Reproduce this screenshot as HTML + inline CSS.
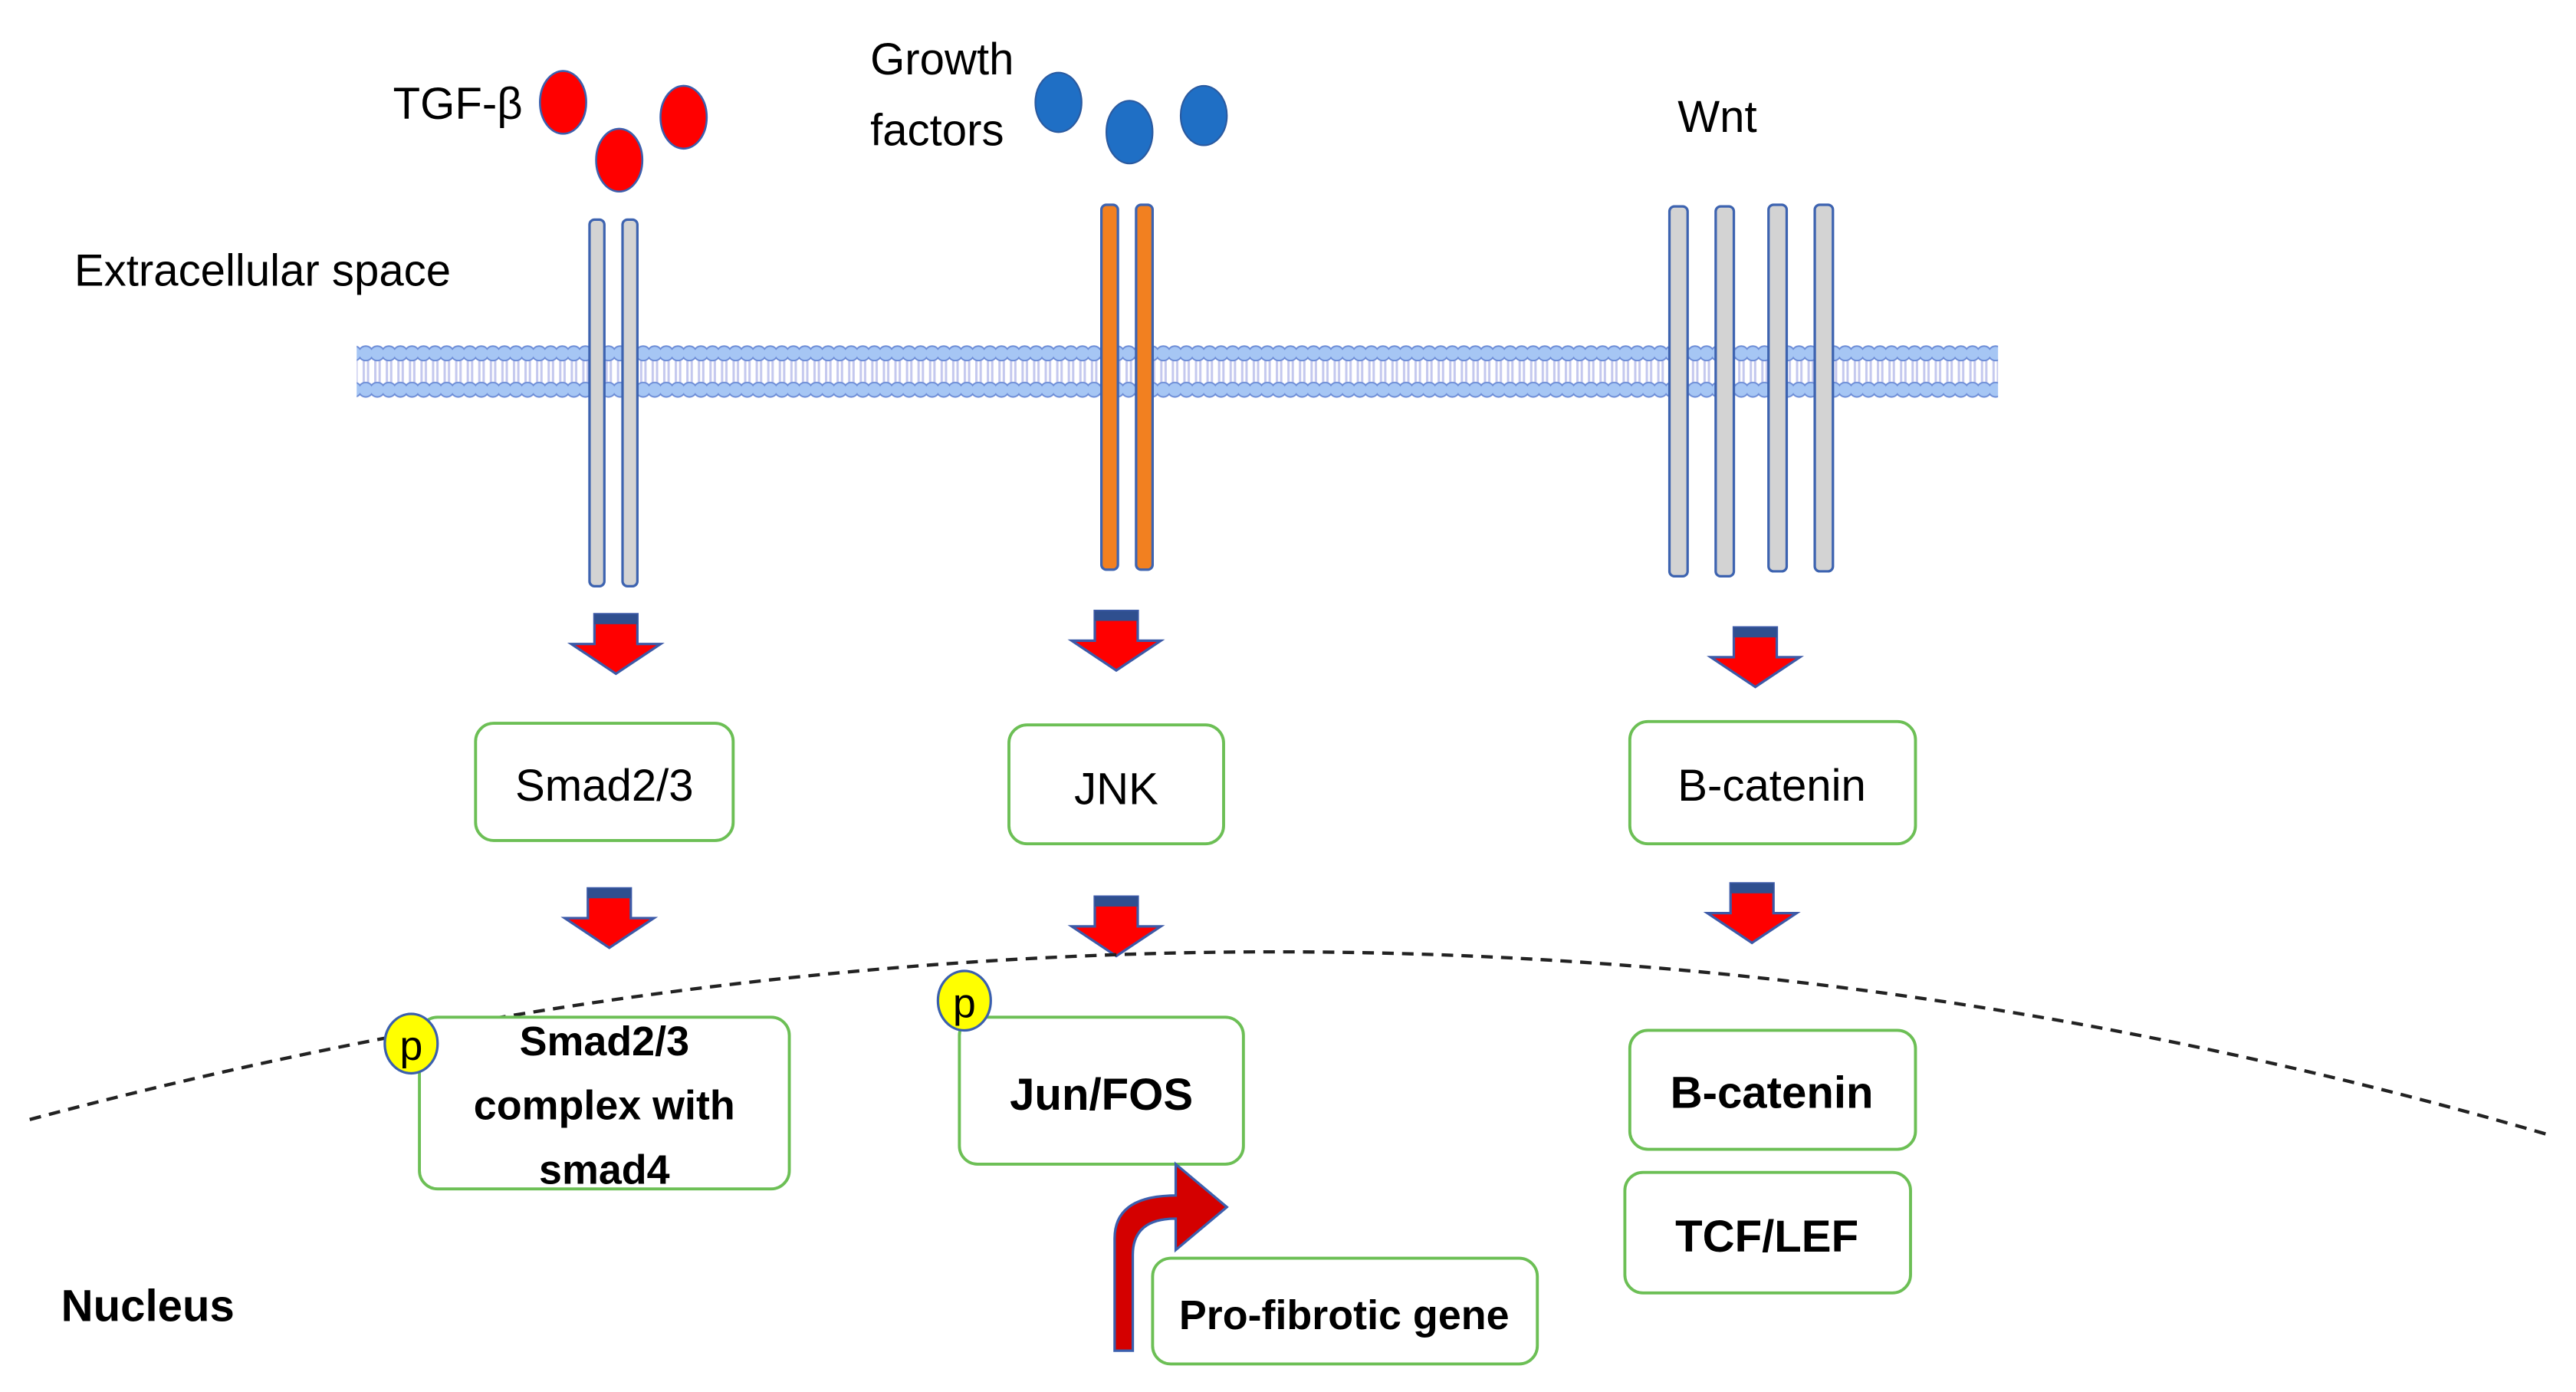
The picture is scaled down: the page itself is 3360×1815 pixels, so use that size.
<!DOCTYPE html>
<html><head><meta charset="utf-8"><style>
html,body{margin:0;padding:0;background:#fff}
svg{display:block}
text{font-family:"Liberation Sans",sans-serif;fill:#000}
</style></head><body>
<svg width="3360" height="1815" viewBox="0 0 1560 843" preserveAspectRatio="none" xmlns="http://www.w3.org/2000/svg">
<defs>
<pattern id="mem" x="218" y="207" width="7" height="36" patternUnits="userSpaceOnUse">
<rect x="1.6" y="10" width="1.4" height="16" fill="#c4c8ee"/>
<rect x="4.2" y="10" width="1.4" height="16" fill="#c4c8ee"/>
<circle cx="3.5" cy="7" r="4.4" fill="#a6c6f4" stroke="#6b8bd6" stroke-width="0.9"/>
<circle cx="3.5" cy="29" r="4.4" fill="#a6c6f4" stroke="#6b8bd6" stroke-width="0.9"/>
</pattern>
<g id="arr">
<path d="M-13,0 H13 V18 H27 L0,36 L-27,18 H-13 Z" fill="#ff0000" stroke="#3c5aa8" stroke-width="1.5"/>
<rect x="-13" y="0" width="26" height="6" fill="#2f4f8f"/>
</g>
</defs>

<text x="238" y="72" font-size="27">TGF-β</text>
<text x="527" y="45" font-size="27">Growth</text>
<text x="527" y="88" font-size="27">factors</text>
<text x="1016" y="80" font-size="27">Wnt</text>
<text x="45" y="173" font-size="27">Extracellular space</text>

<g fill="#ff0000" stroke="#3a5fae" stroke-width="1.2">
<ellipse cx="341" cy="62" rx="14" ry="19"/>
<ellipse cx="375" cy="97" rx="14" ry="19"/>
<ellipse cx="414" cy="71" rx="14" ry="19"/>
</g>
<g fill="#1f6fc5" stroke="#2a5aa0" stroke-width="1">
<ellipse cx="641" cy="62" rx="14" ry="18"/>
<ellipse cx="684" cy="80" rx="14" ry="19"/>
<ellipse cx="729" cy="70" rx="14" ry="18"/>
</g>

<rect x="216" y="207" width="994" height="36" fill="url(#mem)"/>

<g stroke="#3d63b0" stroke-width="1.5">
<rect x="357" y="133" width="9" height="222" rx="3" fill="#d3d3d3"/>
<rect x="377" y="133" width="9" height="222" rx="3" fill="#d3d3d3"/>
<rect x="667" y="124" width="10" height="221" rx="3" fill="#f28020"/>
<rect x="688" y="124" width="10" height="221" rx="3" fill="#f28020"/>
<rect x="1011" y="125" width="11" height="224" rx="3" fill="#d3d3d3"/>
<rect x="1039" y="125" width="11" height="224" rx="3" fill="#d3d3d3"/>
<rect x="1071" y="124" width="11" height="222" rx="3" fill="#d3d3d3"/>
<rect x="1099" y="124" width="11" height="222" rx="3" fill="#d3d3d3"/>
</g>

<use href="#arr" x="373" y="372"/>
<use href="#arr" x="676" y="370"/>
<use href="#arr" x="1063" y="380"/>
<use href="#arr" x="369" y="538"/>
<use href="#arr" x="676" y="543"/>
<use href="#arr" x="1061" y="535"/>

<g fill="#fff" stroke="#6cbf55" stroke-width="1.8">
<rect x="288" y="438" width="156" height="71" rx="11"/>
<rect x="611" y="439" width="130" height="72" rx="11"/>
<rect x="987" y="437" width="173" height="74" rx="11"/>
</g>
<text x="366" y="485" font-size="27" text-anchor="middle">Smad2/3</text>
<text x="676" y="487" font-size="27" text-anchor="middle">JNK</text>
<text x="1073" y="485" font-size="27" text-anchor="middle">B-catenin</text>

<path d="M18,678 Q800,470 1546,688" fill="none" stroke="#222" stroke-width="2" stroke-dasharray="7,5"/>

<g fill="#fff" stroke="#6cbf55" stroke-width="1.8">
<rect x="254" y="616" width="224" height="104" rx="11"/>
<rect x="581" y="616" width="172" height="89" rx="11"/>
<rect x="987" y="624" width="173" height="72" rx="11"/>
<rect x="984" y="710" width="173" height="73" rx="11"/>
<rect x="698" y="762" width="233" height="64" rx="11"/>
</g>
<g font-weight="bold" text-anchor="middle">
<text x="366" y="639" font-size="25">Smad2/3</text>
<text x="366" y="678" font-size="25">complex with</text>
<text x="366" y="717" font-size="25">smad4</text>
<text x="667" y="672" font-size="27">Jun/FOS</text>
<text x="1073" y="671" font-size="27">B-catenin</text>
<text x="1070" y="758" font-size="27">TCF/LEF</text>
<text x="814" y="805" font-size="25">Pro-fibrotic gene</text>
</g>
<text x="37" y="800" font-size="27" font-weight="bold">Nucleus</text>

<g stroke="#3a5fae" stroke-width="1.5">
<ellipse cx="249" cy="632" rx="16" ry="18" fill="#ffff00"/>
<ellipse cx="584" cy="606" rx="16" ry="18" fill="#ffff00"/>
</g>
<text x="249" y="642" font-size="25" text-anchor="middle">p</text>
<text x="584" y="616" font-size="25" text-anchor="middle">p</text>

<path d="M675,818 V750 Q675,724 712,724 V705 L743,731 L712,757 V738 Q686,738 686,760 V818 Z" fill="#d40000" stroke="#3a5fae" stroke-width="1.5"/>
</svg>
</body></html>
